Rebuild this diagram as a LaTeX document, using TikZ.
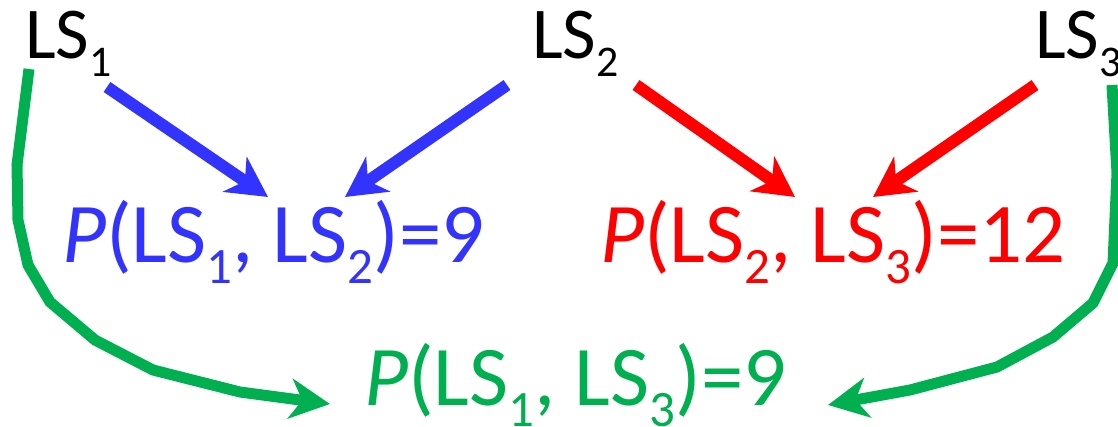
\documentclass[tikz,border=0pt]{standalone}
\usepackage{fontspec}
\setmainfont{Carlito}
\usetikzlibrary{arrows.meta}
\definecolor{cblue}{RGB}{51,51,255}
\definecolor{cred}{RGB}{255,0,0}
\definecolor{cgreen}{RGB}{0,176,80}
\newcommand\ssub[1]{\raisebox{-0.25em}{\scalebox{0.6}{#1}}}
\tikzset{
  lbl/.style={inner sep=0pt, anchor=base west, font=\fontsize{73}{80}\selectfont},
  res/.style={inner sep=0pt, anchor=base west, font=\fontsize{85}{92}\selectfont},
  arr/.style={line width=12pt, -{Stealth[length=40pt,width=42pt,inset=12pt]}},
  garr/.style={line width=11pt, cgreen, -{Stealth[length=40pt,width=40pt,inset=12pt]}},
}
\begin{document}
\begin{tikzpicture}[x=1pt,y=-1pt]
\useasboundingbox (0,0) rectangle (1118,426);
\node[lbl] (ls1) at (25,58) {LS\ssub{1}};
\node[lbl] (ls2) at (532,58) {LS\ssub{2}};
\node[lbl] (ls3) at (1035,58) {LS\ssub{3}};
\node[res, text=cblue] (p12) at (62,262) {\textit{P}(LS\ssub{1}, LS\ssub{2})=9};
\node[res, text=cred] (p23) at (600,262) {\textit{P}(LS\ssub{2}, LS\ssub{3})=12};
\node[res, text=cgreen] (p13) at (364,405) {\textit{P}(LS\ssub{1}, LS\ssub{3})=9};
% arrow end points
\coordinate (b1s) at (107,87);  \coordinate (b1e) at (268,197);
\coordinate (b2s) at (507,85);  \coordinate (b2e) at (345,197);
\coordinate (r1s) at (636,85);  \coordinate (r1e) at (795,197);
\coordinate (r2s) at (1035,85); \coordinate (r2e) at (873,197);
\coordinate (g1s) at (29,69);   \coordinate (g1e) at (330,404);
\coordinate (g2s) at (1112,85); \coordinate (g2e) at (828,405);
\draw[arr, cblue] (b1s) -- (b1e);
\draw[arr, cblue] (b2s) -- (b2e);
\draw[arr, cred] (r1s) -- (r1e);
\draw[arr, cred] (r2s) -- (r2e);
\draw[garr] (g1s) -- (17,165) -- (18,220) -- (28,265) -- (50,302) -- (95,340) -- (153,370) -- (240,392) -- (g1e);
\draw[garr] (g2s) -- (1117,173) -- (1113,263) -- (1093,303) -- (1053,337) -- (997,367) -- (910,390) -- (g2e);
\end{tikzpicture}
\end{document}
